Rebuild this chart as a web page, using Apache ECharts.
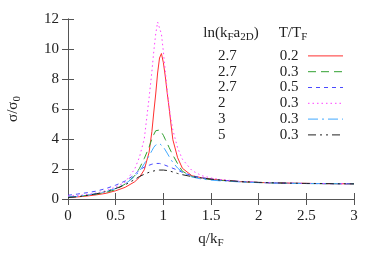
<!DOCTYPE html>
<html><head><meta charset="utf-8">
<script src="https://cdn.jsdelivr.net/npm/echarts@6/dist/echarts.min.js"></script>
<style>html,body{margin:0;padding:0;background:#fff}#c{width:382px;height:267px}</style>
</head><body><div id="c"></div>
<script>
const Q = [0,0.1,0.2,0.3,0.4,0.5,0.6,0.7,0.75,0.8,0.85,0.88,0.9,0.92,0.94,0.96,0.98,1.0,1.02,1.04,1.06,1.08,1.1,1.15,1.2,1.3,1.4,1.5,1.6,1.8,2.0,2.2,2.5,2.8,3.0];
const red   = [0.10,0.14,0.20,0.28,0.38,0.55,0.78,1.15,1.45,1.95,3.1,4.5,5.8,7.0,8.4,9.4,9.7,9.1,8.2,7.1,6.1,5.0,3.95,2.75,2.05,1.55,1.42,1.33,1.26,1.16,1.10,1.07,1.04,1.02,1.01];
const green = [0.12,0.17,0.24,0.33,0.45,0.62,1.0,1.55,2.05,2.7,3.45,4.0,4.3,4.55,4.64,4.6,4.45,4.25,3.98,3.72,3.44,3.18,2.93,2.35,1.85,1.5,1.38,1.3,1.24,1.15,1.1,1.06,1.03,1.02,1.01];
const blue  = [0.25,0.33,0.42,0.53,0.7,0.92,1.2,1.62,1.95,2.12,2.25,2.32,2.35,2.37,2.38,2.37,2.34,2.3,2.25,2.2,2.15,2.1,2.07,1.92,1.78,1.55,1.42,1.33,1.26,1.16,1.1,1.06,1.03,1.02,1.01];
const pink  = [0.20,0.23,0.30,0.40,0.55,0.80,1.12,2.0,2.8,4.0,6.7,8.5,9.85,11.0,11.8,11.7,11.0,9.85,8.55,7.25,6.2,5.3,4.6,3.4,2.65,1.9,1.56,1.4,1.3,1.18,1.11,1.07,1.04,1.02,1.01];
const cyan  = [0.13,0.18,0.26,0.36,0.5,0.7,1.0,1.5,1.85,2.35,2.87,3.22,3.45,3.6,3.7,3.7,3.62,3.47,3.27,3.06,2.84,2.63,2.44,2.06,1.79,1.47,1.33,1.26,1.21,1.14,1.09,1.06,1.03,1.02,1.01];
const black = [0.1,0.15,0.24,0.35,0.5,0.7,0.95,1.3,1.5,1.65,1.78,1.84,1.87,1.9,1.92,1.93,1.93,1.93,1.92,1.9,1.87,1.84,1.8,1.7,1.62,1.49,1.4,1.32,1.26,1.17,1.11,1.07,1.04,1.02,1.01];
const lnVals = ['2.7','2.7','2.7','2','3','5'];
const tVals  = ['0.2','0.3','0.5','0.3','0.3','0.3'];
const seriesData = [red, green, blue, pink, cyan, black];
const colors = ['#ff3030','#30a030','#4a4aff','#ff40ff','#40a8ff','#222222'];
const dashes = ['solid',[8,5],[4,4],[1.5,3],[10,4,2,4],[8,4,2,4,2,4]];

const FONT = 'Liberation Serif';
const names = seriesData.map((d,i)=>'s'+i);
const series = seriesData.map((d,i)=>({
  name: names[i], type:'line', symbol:'none', showSymbol:false, silent:true, animation:false,
  data: Q.map((q,j)=>[q,d[j]]),
  lineStyle:{color:colors[i], width:1, type:dashes[i]},
  itemStyle:{color:colors[i]}
}));
const axisCol = '#555';
const LH = 15.8;
const chart = echarts.init(document.getElementById('c'));
chart.setOption({
  animation:false,
  backgroundColor:'#fff',
  grid:{left:68,right:28,top:19,bottom:68,containLabel:false,outerBoundsMode:'none'},
  xAxis:[{
    type:'value', min:0, max:3, interval:0.5,
    axisLine:{lineStyle:{color:axisCol}},
    axisTick:{inside:true,length:6,lineStyle:{color:axisCol}},
    axisLabel:{color:'#222',fontFamily:FONT,fontSize:15,margin:10},
    splitLine:{show:false},
    name:'q/k{s|F}', nameLocation:'middle', nameGap:26,
    nameTextStyle:{color:'#222',fontFamily:FONT,fontSize:15,lineHeight:20,
      rich:{s:{fontFamily:FONT,fontSize:11,lineHeight:11,verticalAlign:'bottom',color:'#222'}}}
  },{
    type:'value', min:0, max:3, interval:0.5, position:'top',
    axisLine:{lineStyle:{color:axisCol}},
    axisTick:{inside:true,length:6,lineStyle:{color:axisCol}},
    axisLabel:{show:false}, splitLine:{show:false}
  }],
  yAxis:[{
    type:'value', min:0, max:12, interval:2,
    axisLine:{show:true,lineStyle:{color:axisCol}},
    axisTick:{show:true,inside:true,length:6,lineStyle:{color:axisCol}},
    axisLabel:{color:'#222',fontFamily:FONT,fontSize:15,margin:9},
    splitLine:{show:false},
    name:'σ/σ{s|0}', nameLocation:'middle', nameGap:45, nameRotate:90,
    nameTextStyle:{color:'#222',fontFamily:FONT,fontSize:15,lineHeight:20,
      rich:{s:{fontFamily:FONT,fontSize:11,lineHeight:11,verticalAlign:'bottom',color:'#222'}}}
  },{
    type:'value', min:0, max:12, interval:2, position:'right',
    axisLine:{show:true,lineStyle:{color:axisCol}},
    axisTick:{show:true,inside:true,length:6,lineStyle:{color:axisCol}},
    axisLabel:{show:false}, splitLine:{show:false}
  }],
  legend:{
    data:names.map((n,i)=>({name:n, lineStyle:{color:colors[i], type:dashes[i], width:1}, itemStyle:{opacity:0}})),
    orient:'vertical', left:213, top:43, align:'right',
    itemWidth:35, itemHeight:14, itemGap:0, selectedMode:false,
    itemStyle:{opacity:0},
    lineStyle:{width:1},
    formatter:(n)=>{const i=names.indexOf(n);return '{a|'+lnVals[i]+'}{g| }{b|'+tVals[i]+'}';},
    textStyle:{fontFamily:FONT,fontSize:15,color:'#222',lineHeight:LH,
      rich:{a:{width:40,align:'left',fontFamily:FONT,fontSize:15,lineHeight:LH,color:'#222'},
            g:{width:17,lineHeight:LH},
            b:{width:28,align:'left',fontFamily:FONT,fontSize:15,lineHeight:LH,color:'#222'}}}
  },
  graphic:[
    {type:'text', x:231, y:33, style:{
      text:'{n|ln(k}{s|F}{n|a}{s|2D}{n|)}', x:0, y:0, align:'center', verticalAlign:'middle',
      fill:'#222', font:'15px '+FONT,
      rich:{n:{fontFamily:FONT,fontSize:15,lineHeight:20},s:{fontFamily:FONT,fontSize:11,lineHeight:11,verticalAlign:'bottom'}}}},
    {type:'text', x:293, y:33, style:{
      text:'{n|T/T}{s|F}', x:0, y:0, align:'center', verticalAlign:'middle',
      fill:'#222', font:'15px '+FONT,
      rich:{n:{fontFamily:FONT,fontSize:15,lineHeight:20},s:{fontFamily:FONT,fontSize:11,lineHeight:11,verticalAlign:'bottom'}}}}
  ],
  series: series
});
</script></body></html>
